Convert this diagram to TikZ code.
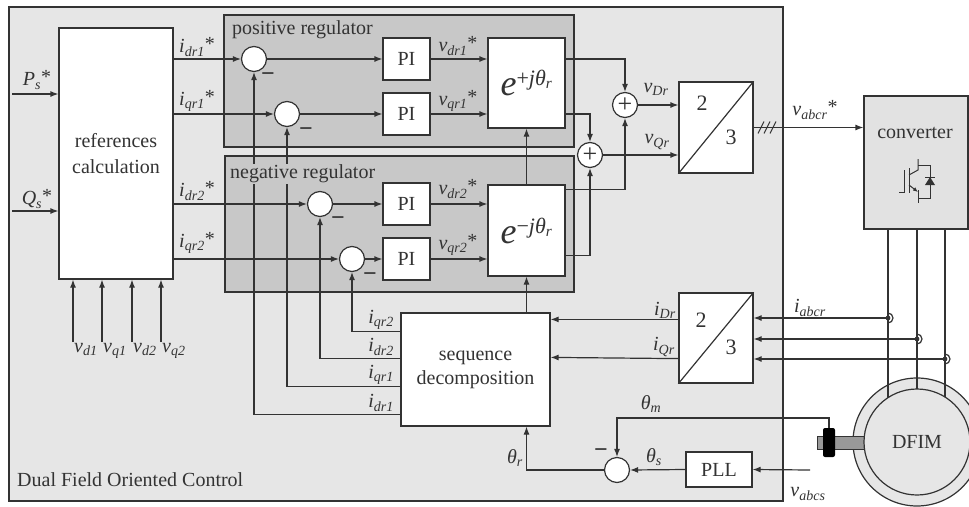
\documentclass[tikz,border=0pt]{standalone}
\usepackage{fontspec}
\setmainfont{Liberation Serif}
\usetikzlibrary{arrows.meta,calc}
\definecolor{lc}{HTML}{333333}
\definecolor{bgout}{HTML}{E6E6E6}
\definecolor{bgreg}{HTML}{C8C8C8}
\definecolor{bgconv}{HTML}{E2E2E2}
\definecolor{shaftc}{HTML}{999999}
\newcommand\sg[2]{\textit{#1}\textsubscript{\textit{#2}}}
\newcommand\str{\raisebox{0.1em}{*}}
\begin{document}
\begin{tikzpicture}[x=1pt,y=-1pt,
  every node/.style={font=\fontsize{20}{23}\selectfont, text=lc},
  blk/.style={draw=lc, fill=white, line width=1.2pt, inner sep=0pt},
  sumc/.style={circle, draw=lc, fill=white, line width=1.2pt, minimum size=25pt, inner sep=0pt},
  wire/.style={draw=lc, line width=1.2pt},
  arr/.style={wire, -{Latex[length=8pt,width=6pt]}},
  lbl/.style={inner sep=0pt},
  minus/.style={inner sep=0pt, font=\fontsize{24}{24}\selectfont\bfseries},
  plus/.style={font=\fontsize{26}{26}\selectfont},
  regl/.style={fill=bgreg, inner sep=1pt, anchor=west},
]
\useasboundingbox (0,0) rectangle (969,506);
% backgrounds
\filldraw[fill=bgout, draw=lc, line width=1.5pt] (9,7) rectangle (783,501);
\filldraw[fill=bgreg, draw=lc, line width=1.2pt] (224,15) rectangle (574,147);
\filldraw[fill=bgreg, draw=lc, line width=1.2pt] (225,156) rectangle (574,292);

% blocks
\node[blk, minimum width=114pt, minimum height=251pt, align=center, font=\fontsize{20}{26}\selectfont] (ref) at (116,153.5) {references\\calculation};
\node[blk, minimum width=47pt, minimum height=42pt] (pi1) at (406.5,59) {PI};
\node[blk, minimum width=47pt, minimum height=42pt] (pi2) at (406.5,114) {PI};
\node[blk, minimum width=47pt, minimum height=42pt] (pi3) at (406.5,204) {PI};
\node[blk, minimum width=47pt, minimum height=42pt] (pi4) at (406.5,259) {PI};
\node[blk, minimum width=77pt, minimum height=90pt] (ep) at (526.5,83)
  {\fontsize{36}{36}\selectfont\textit{e}\raisebox{10pt}{\fontsize{22}{22}\selectfont +\textit{jθ}\textsubscript{\textit{r}}}};
\node[blk, minimum width=77pt, minimum height=91pt] (em) at (526.5,230.5)
  {\fontsize{36}{36}\selectfont\textit{e}\raisebox{10pt}{\fontsize{22}{22}\selectfont −\textit{jθ}\textsubscript{\textit{r}}}};
\node[sumc] (c1) at (254,59) {};
\node[sumc] (c2) at (287,114) {};
\node[sumc] (c3) at (320,204) {};
\node[sumc] (c4) at (352,259) {};
\node[sumc, plus] (p1) at (625,105) {+};
\node[sumc, plus] (p2) at (590,155) {+};
\node[blk, minimum width=74pt, minimum height=91pt] (t1) at (716,127.5) {};
\draw[wire] (t1.south west) -- (t1.north east);
\node[font=\fontsize{22}{22}\selectfont] at (702,103) {2};
\node[font=\fontsize{22}{22}\selectfont] at (731,137) {3};
\node[blk, minimum width=74pt, minimum height=90pt] (t2) at (716,338) {};
\draw[wire] (t2.south west) -- (t2.north east);
\node[font=\fontsize{22}{22}\selectfont] at (701,320) {2};
\node[font=\fontsize{22}{22}\selectfont] at (731,347) {3};
\node[blk, minimum width=149pt, minimum height=113pt, align=center, font=\fontsize{20}{24}\selectfont] (seq) at (475.5,369.5) {sequence\\decomposition};
\node[sumc] (c5) at (617,470) {};
\node[blk, minimum width=66pt, minimum height=35pt] (pll) at (719,469.5) {PLL};

% converter
\node[draw=lc, fill=bgconv, line width=1.2pt, minimum width=104pt, minimum height=133pt] (conv) at (916,162.5) {};
\node at (915,133) {converter};
\begin{scope}[draw=lc, line width=1pt]
\draw (899,192) -- (904,192) -- (904,170);
\draw (909,168) -- (909,193);
\draw (909,175) -- (918,170) -- (918,159);
\draw[-{Latex[length=5pt,width=4pt]}] (909,185) -- (918,192);
\draw (918,190) -- (918,203);
\draw (918,165) -- (930,165) -- (930,198) -- (918,198);
\fill[lc] (925,185) -- (935,185) -- (930,177) -- cycle;
\draw (925,177) -- (935,177);
\end{scope}

% DFIM
\coordinate (s1) at (888,318);
\coordinate (s2) at (917,339);
\coordinate (s3) at (945,359);
\node[circle, draw=lc, fill=bgout, line width=1.2pt, minimum size=128pt, inner sep=0pt] (dfo) at (917,442) {};
\draw[wire] (s1 |- conv.south) -- (s1 |- dfo.center);
\draw[wire] (s2 |- conv.south) -- (s2 |- dfo.center);
\draw[wire] (s3 |- conv.south) -- (s3 |- dfo.center);
\filldraw[fill=shaftc, draw=lc, line width=0.8pt] (817,436) rectangle (866,449);
\node[circle, draw=lc, fill=bgout, line width=1.2pt, minimum size=106pt, inner sep=0pt] (dfi) at (917,442) {DFIM};
\node[fill=black, rounded corners=2pt, minimum width=12pt, minimum height=29pt, inner sep=0pt] (enc) at (829,442.5) {};

% current sensors
\foreach \s in {s1,s2,s3}{
  \fill[lc] (\s) circle (2.4pt);
  \draw[wire] ([yshift=5pt]\s) arc[start angle=90, end angle=-90, radius=5pt];
}

% inputs
\coordinate (Pin) at (12,94);
\coordinate (Qin) at (12,211);
\draw[arr] (Pin) -- (Pin -| ref.west);
\draw[arr] (Qin) -- (Qin -| ref.west);
\node[lbl] at (37,80) {\sg{P}{s}\str};
\node[lbl] at (37,199) {\sg{Q}{s}\str};
\coordinate (vd1) at (73,342);
\coordinate (vq1) at (102,342);
\coordinate (vd2) at (132,342);
\coordinate (vq2) at (161,342);
\foreach \v in {vd1,vq1,vd2,vq2}{\draw[arr] (\v) -- (\v |- ref.south);}
\node[lbl, anchor=base west] at (74,352) {\sg{v}{d1}};
\node[lbl, anchor=base west] at (103,352) {\sg{v}{q1}};
\node[lbl, anchor=base west] at (133,352) {\sg{v}{d2}};
\node[lbl, anchor=base west] at (162,352) {\sg{v}{q2}};

% references to regulators
\draw[arr] (ref.east |- c1) -- (c1.west);
\draw[arr] (ref.east |- c2) -- (c2.west);
\draw[arr] (ref.east |- c3) -- (c3.west);
\draw[arr] (ref.east |- c4) -- (c4.west);
\node[lbl] at (197,47) {\sg{i}{dr1}\str};
\node[lbl] at (197,101) {\sg{i}{qr1}\str};
\node[lbl] at (197,191) {\sg{i}{dr2}\str};
\node[lbl] at (197,243) {\sg{i}{qr2}\str};

% regulators
\draw[arr] (c1.east) -- (pi1.west);
\draw[arr] (c2.east) -- (pi2.west);
\draw[arr] (c3.east) -- (pi3.west);
\draw[arr] (c4.east) -- (pi4.west);
\draw[arr] (pi1.east) -- (pi1.east -| ep.west);
\draw[arr] (pi2.east) -- (pi2.east -| ep.west);
\draw[arr] (pi3.east) -- (pi3.east -| em.west);
\draw[arr] (pi4.east) -- (pi4.east -| em.west);
\node[lbl] at (458,46) {\sg{v}{dr1}\str};
\node[lbl] at (458,101) {\sg{v}{qr1}\str};
\node[lbl] at (458,189) {\sg{v}{dr2}\str};
\node[lbl] at (458,245) {\sg{v}{qr2}\str};
\node[minus] at (268,77) {−};
\node[minus] at (306,132) {−};
\node[minus] at (338,221) {−};
\node[minus] at (370,277) {−};

% summation
\draw[arr] (ep.east |- c1) -| (p1.north);
\draw[arr] (ep.east |- c2) -| (p2.north);
\draw[arr] ([yshift=-5pt]em.north east) -| (p1.south);
\draw[arr] ([yshift=21pt]em.south east) -| (p2.south);
\draw[arr] (p1.east) -- (p1.east -| t1.west);
\draw[arr] (p2.east) -- (p2.east -| t1.west);
\node[lbl] at (656,89) {\sg{v}{Dr}};
\node[lbl] at (657,142) {\sg{v}{Qr}};
\draw[arr] (t1.east) -- (t1.east -| conv.west);
\foreach \h in {761,767,773}{\draw[wire, line width=1pt] (\h-3,133.5) -- (\h+3,121.5);}
\node[lbl] at (815,110) {\sg{v}{abcr}\str};

% feedback
\draw[arr] (s1) -- (s1 -| t2.east);
\draw[arr] (s2) -- (s2 -| t2.east);
\draw[arr] (s3) -- (s3 -| t2.east);
\node[lbl] at (810,308) {\sg{i}{abcr}};
\draw[arr] ([yshift=-27pt]t2.north west) -- ([yshift=-7pt]seq.north east);
\draw[arr] ([yshift=25pt]t2.south west) -- ([yshift=-45pt]seq.north east);
\node[lbl] at (665,310) {\sg{i}{Dr}};
\node[lbl] at (664,347) {\sg{i}{Qr}};
\draw[arr] ([yshift=-19pt]seq.north west) -| (c4.south);
\draw[arr] ([yshift=-46pt]seq.north west) -| (c3.south);
\draw[arr] ([yshift=-74pt]seq.north west) -| (c2.south);
\draw[arr] ([yshift=-102pt]seq.north west) -| (c1.south);
\node[lbl] at (381,320) {\sg{i}{qr2}};
\node[lbl] at (381,347) {\sg{i}{dr2}};
\node[lbl] at (381,375) {\sg{i}{qr1}};
\node[lbl] at (381,403) {\sg{i}{dr1}};
\draw[arr] ([xshift=51pt]seq.north) -- (em.south);
\draw[arr] (em.north) -- (ep.south);

% angles
\draw[arr] (c5.west) -| ([xshift=51pt]seq.south);
\node[lbl] at (515,458) {\sg{θ}{r}};
\coordinate (mc) at (829,418);
\draw[arr] (enc.north) -- (mc) -| (c5.north);
\node[lbl] at (651,404) {\sg{θ}{m}};
\node[minus] at (601,453) {−};
\draw[arr] (pll.west) -- (c5.east);
\node[lbl] at (654,457) {\sg{θ}{s}};
\coordinate (vs) at (810,470);
\draw[arr] (vs) -- (pll.east);
\node[lbl] at (808,494) {\sg{v}{abcs}};

% region labels
\node[regl] at (231,30) {positive regulator};
\node[regl] at (229,174) {negative regulator};
\node[anchor=west, inner sep=0pt] at (17,480) {Dual Field Oriented Control};
\end{tikzpicture}
\end{document}
